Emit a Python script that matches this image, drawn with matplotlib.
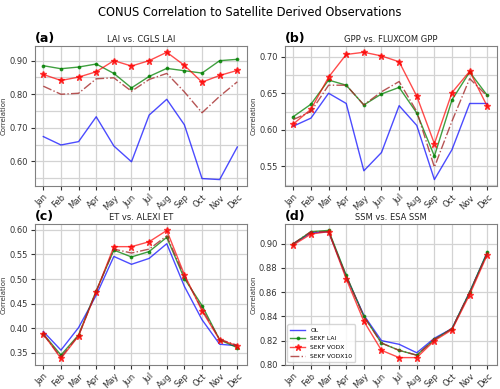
import numpy as np
import matplotlib.pyplot as plt
from matplotlib.ticker import MultipleLocator, FormatStrFormatter

# ---------- data ----------

months = ['Jan', 'Feb', 'Mar', 'Apr', 'May', 'Jun',
          'Jul', 'Aug', 'Sep', 'Oct', 'Nov', 'Dec']

# (a) LAI vs. CGLS LAI
lai_ol = [0.674, 0.649, 0.659, 0.733, 0.646, 0.599, 0.738, 0.785, 0.709, 0.549, 0.546, 0.643]
lai_sekf_lai = [0.885, 0.876, 0.881, 0.890, 0.862, 0.819, 0.853, 0.877, 0.870, 0.863, 0.900, 0.904]
lai_sekf_vodx = [0.859, 0.841, 0.851, 0.867, 0.900, 0.884, 0.900, 0.925, 0.886, 0.836, 0.856, 0.871]
lai_sekf_vodx10 = [0.824, 0.800, 0.803, 0.846, 0.849, 0.809, 0.844, 0.862, 0.807, 0.745, 0.794, 0.837]

# (b) GPP vs. FLUXCOM GPP
gpp_ol = [0.605, 0.616, 0.650, 0.636, 0.544, 0.569, 0.633, 0.606, 0.532, 0.573, 0.636, 0.636]
gpp_sekf_lai = [0.618, 0.635, 0.668, 0.661, 0.634, 0.649, 0.658, 0.623, 0.564, 0.641, 0.679, 0.647]
gpp_sekf_vodx = [0.608, 0.628, 0.672, 0.703, 0.706, 0.701, 0.693, 0.646, 0.581, 0.651, 0.680, 0.632]
gpp_sekf_vodx10 = [0.614, 0.625, 0.661, 0.661, 0.634, 0.652, 0.666, 0.625, 0.549, 0.612, 0.670, 0.646]

# (c) ET vs. ALEXI ET
et_ol = [0.393, 0.355, 0.401, 0.467, 0.546, 0.530, 0.542, 0.572, 0.485, 0.417, 0.367, 0.364]
et_sekf_lai = [0.388, 0.345, 0.386, 0.476, 0.559, 0.545, 0.556, 0.585, 0.501, 0.446, 0.376, 0.360]
et_sekf_vodx = [0.388, 0.338, 0.384, 0.474, 0.566, 0.566, 0.576, 0.599, 0.509, 0.435, 0.376, 0.364]
et_sekf_vodx10 = [0.387, 0.341, 0.385, 0.475, 0.561, 0.553, 0.561, 0.588, 0.505, 0.439, 0.377, 0.365]

# (d) SSM vs. ESA SSM
ssm_ol = [0.900, 0.909, 0.910, 0.873, 0.841, 0.820, 0.817, 0.810, 0.822, 0.830, 0.860, 0.893]
ssm_sekf_lai = [0.900, 0.910, 0.911, 0.874, 0.840, 0.818, 0.812, 0.808, 0.821, 0.830, 0.860, 0.893]
ssm_sekf_vodx = [0.899, 0.908, 0.910, 0.871, 0.836, 0.812, 0.806, 0.806, 0.820, 0.829, 0.858, 0.891]
ssm_sekf_vodx10 = [0.900, 0.910, 0.910, 0.873, 0.840, 0.818, 0.812, 0.808, 0.821, 0.830, 0.860, 0.892]

panels = [
    ('(a)', 'LAI vs. CGLS LAI', [lai_ol, lai_sekf_lai, lai_sekf_vodx, lai_sekf_vodx10], 0.1, 0.05),
    ('(b)', 'GPP vs. FLUXCOM GPP', [gpp_ol, gpp_sekf_lai, gpp_sekf_vodx, gpp_sekf_vodx10], 0.05, 0.025),
    ('(c)', 'ET vs. ALEXI ET', [et_ol, et_sekf_lai, et_sekf_vodx, et_sekf_vodx10], 0.05, None),
    ('(d)', 'SSM vs. ESA SSM', [ssm_ol, ssm_sekf_lai, ssm_sekf_vodx, ssm_sekf_vodx10], 0.02, None),
]

fs = 6

# ---------- plot ----------

fig = plt.figure(figsize=(5.0, 3.89), dpi=100)
rects = [[0.069, 0.522, 0.425, 0.360],
         [0.569, 0.522, 0.425, 0.360],
         [0.069, 0.062, 0.425, 0.362],
         [0.569, 0.062, 0.425, 0.362]]

x = np.arange(len(months))

for rect, (tag, title, series, major, minor) in zip(rects, panels):
    ax = fig.add_axes(rect)
    ol, s_lai, s_vodx, s_vodx10 = series
    ax.plot(x, ol, color='blue', alpha=0.7, lw=1.0, label='OL')
    ax.plot(x, s_lai, color='green', alpha=0.75, lw=1.0, marker='.', ms=3.5,
            markeredgecolor='green', label='SEKF LAI')
    ax.plot(x, s_vodx, color='red', alpha=0.7, lw=1.0, marker='*', ms=4.5,
            markerfacecolor='red', markeredgecolor='red', label='SEKF VODX')
    ax.plot(x, s_vodx10, color='brown', alpha=0.8, lw=1.0, ls='-.', label='SEKF VODX10')

    ax.set_xlim(-0.5, 11.55)
    ax.set_xticks(x)
    ax.set_xticklabels(months, rotation=45, ha='right', rotation_mode='anchor', fontsize=fs)
    ax.yaxis.set_major_locator(MultipleLocator(major))
    ax.yaxis.set_major_formatter(FormatStrFormatter('%.2f'))
    if minor:
        ax.yaxis.set_minor_locator(MultipleLocator(minor))
        ax.tick_params(axis='y', which='minor', length=0)
    ax.tick_params(axis='both', labelsize=fs, length=3, pad=2, colors='#333333')
    ax.grid(True, which='both', color='lightgray', linewidth=0.9)
    ax.set_axisbelow(True)
    for sp in ax.spines.values():
        sp.set_color('gray')
    ax.set_ylabel('Correlation', fontsize=5, color='#333333')
    ax.yaxis.set_label_coords(-0.13, 0.5)
    ax.set_title(title, fontsize=6, pad=3, color='#222222')
    ax.text(0.0, 1.01, tag, transform=ax.transAxes, fontsize=9,
            fontweight='bold', ha='left', va='bottom')
    if tag == '(d)':
        ax.set_ylim(0.80, None)
        ax.legend(loc='lower left', fontsize=4.3, framealpha=0.8, handlelength=2.5,
                  borderpad=0.5, labelspacing=0.6)

fig.suptitle('CONUS Correlation to Satellite Derived Observations', fontsize=8.3, y=0.985)

fig.savefig('out.png', dpi=100)
